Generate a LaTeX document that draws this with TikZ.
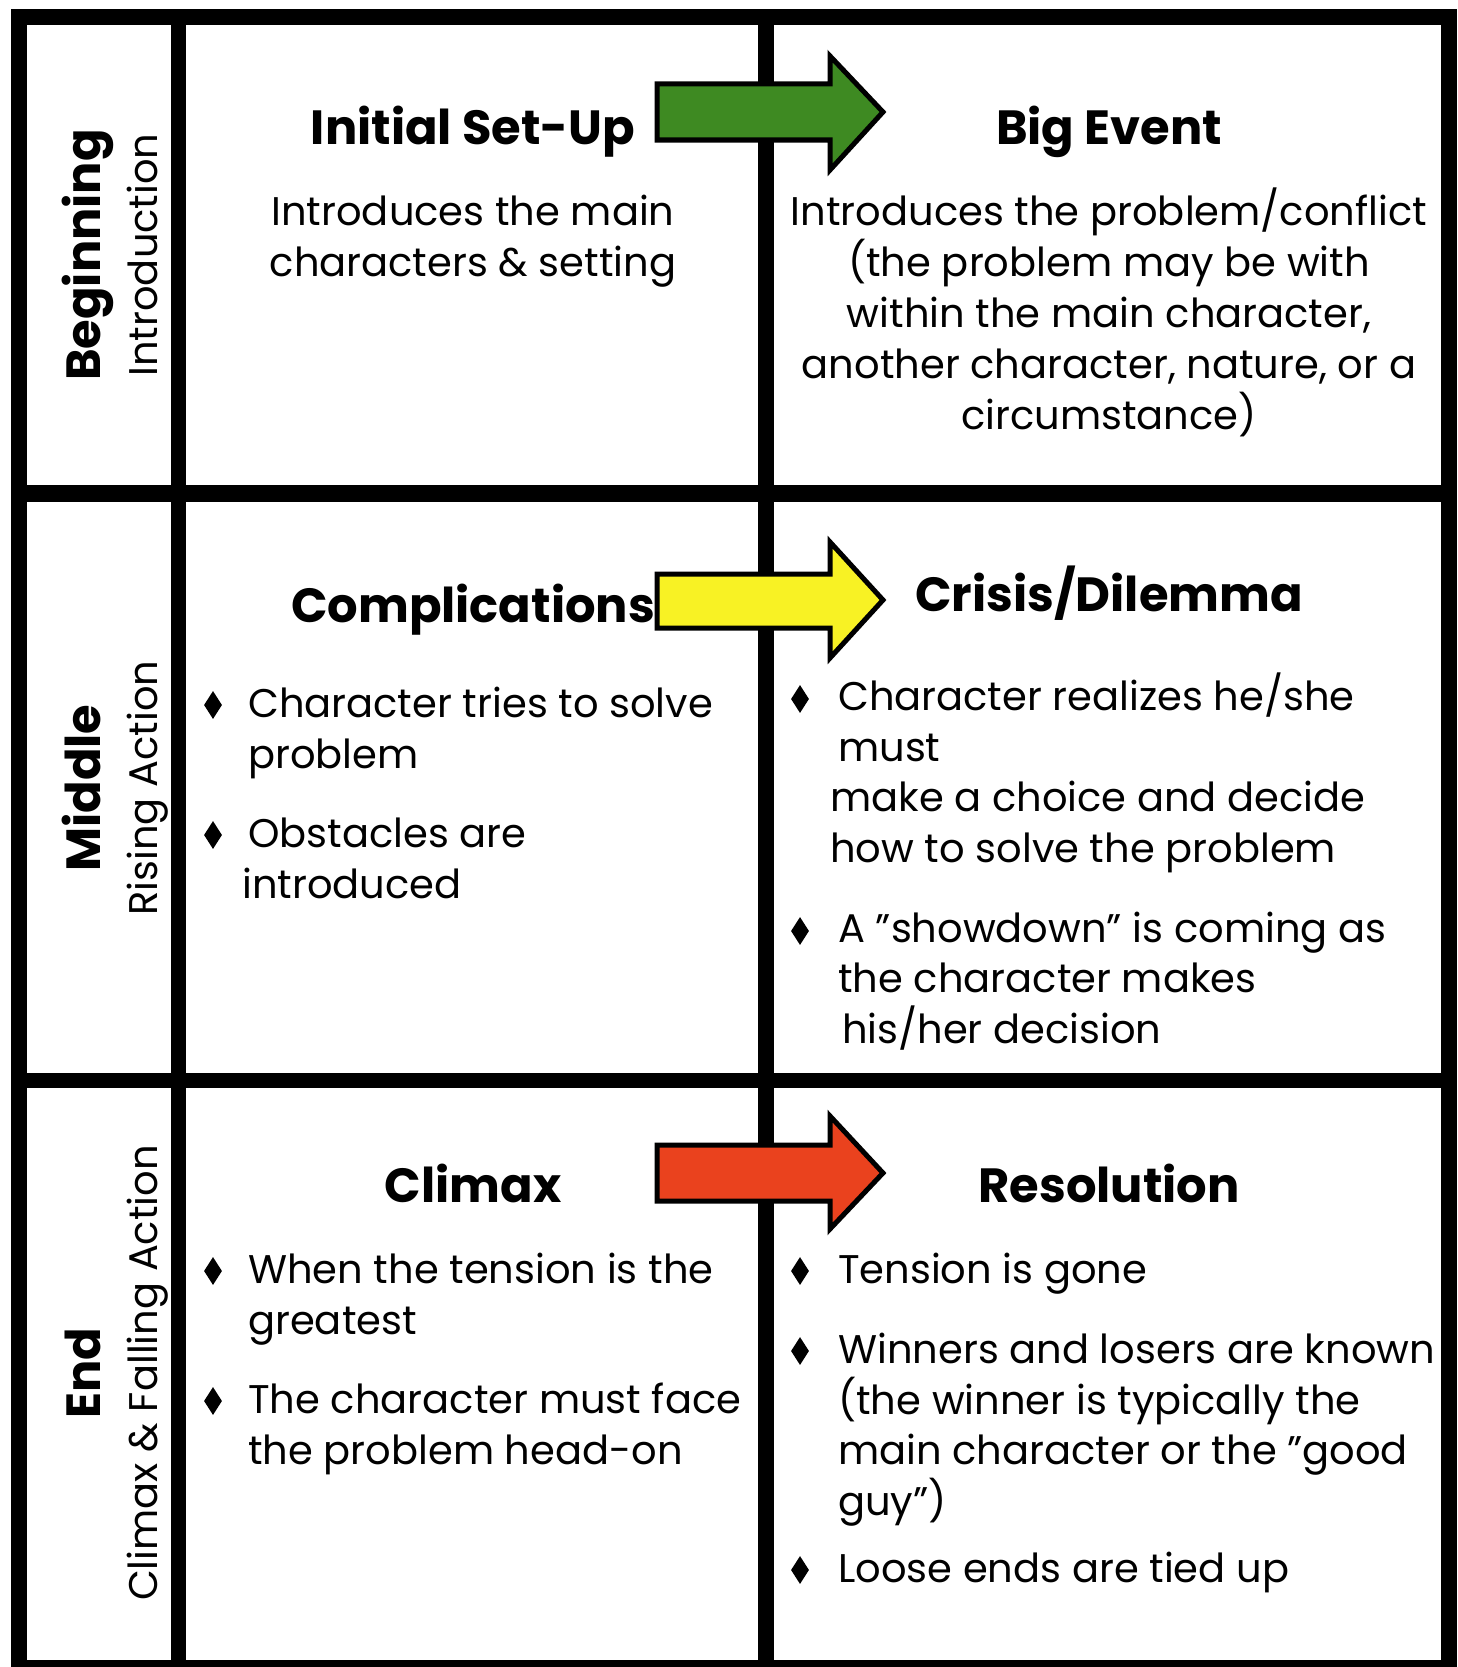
\documentclass[tikz,border=0pt]{standalone}
\usepackage{fontspec}
\setmainfont{Poppins}
\usetikzlibrary{shapes.geometric}
\definecolor{arrowgreen}{RGB}{62,138,34}
\definecolor{arrowyellow}{RGB}{248,242,36}
\definecolor{arrowred}{RGB}{234,66,30}
\begin{document}
\begin{tikzpicture}[x=1pt,y=-1pt,
  gridline/.style={line width=16pt,black},
  blockarrow/.style={draw=black,line width=5pt,line join=miter},
  title/.style={anchor=base,font=\fontsize{48}{56}\selectfont\bfseries,inner sep=0pt},
  body/.style={anchor=base,align=center,font=\fontsize{40}{51}\selectfont,inner sep=0pt},
  item/.style={anchor=base west,align=left,font=\fontsize{40}{50.5}\selectfont,inner sep=0pt},
  bulletmark/.style={diamond,fill=black,inner sep=0pt,minimum width=18pt,minimum height=28pt},
  rowlabel/.style={anchor=base,rotate=90,inner sep=0pt,font=\fontsize{48}{54}\selectfont\bfseries},
  rowsub/.style={anchor=base,rotate=90,inner sep=0pt,font=\fontsize{40}{46}\selectfont},
]
\useasboundingbox (0,0) rectangle (1457,1667);

% table frame and dividers
\draw[gridline] (19,17) rectangle (1449,1668);
\draw[line width=15pt] (178.5,17) -- (178.5,1668);
\draw[gridline] (766,17) -- (766,1668);
\draw[line width=17pt] (19,493.5) -- (1449,493.5);
\draw[line width=15pt] (19,1080.5) -- (1449,1080.5);

% row labels
\node[rowlabel] (beg) at (100,255) {Beginning};
\node[rowsub] (begs) at (157,255) {Introduction};
\node[rowlabel] (mid) at (100,788) {Middle};
\node[rowsub] (mids) at (157,788) {Rising Action};
\node[rowlabel] (end) at (100,1373) {End};
\node[rowsub] (ends) at (157,1373) {Climax \& Falling Action};

% row 1 (multi-line nodes are placed by the baseline of their last line)
\node[title] (setup) at (473,144) {Initial Set-Up};
\node[body] (setupt) at (473,276) {Introduces the main\\characters \& setting};
\node[title] (event) at (1109,144) {Big Event};
\node[body] (eventt) at (1109,429) {Introduces the problem/conflict\\(the problem may be with\\within the main character,\\another character, nature, or a\\circumstance)};

% row 2
\node[title] (compl) at (473,622) {Complications};
\node[title] (crisis) at (1109,611) {Crisis/Dilemma};
\node[bulletmark] (b1) at (213,705) {};
\node[item] (c1) at (248,768) {Character tries to solve\\problem};
\node[bulletmark] (b2) at (213,835) {};
\node[item] (c2) at (242,898) {\hspace*{6pt}Obstacles are\\introduced};
\node[bulletmark] (b3) at (800,699) {};
\node[item] (d1) at (830,862) {\hspace*{8pt}Character realizes he/she\\\hspace*{8pt}must\\make a choice and decide\\how to solve the problem};
\node[bulletmark] (b4) at (800,931) {};
\node[item] (d2) at (838,1043) {A "showdown" is coming as\\the character makes\\\hspace*{4pt}his/her decision};

% row 3
\node[title] (climax) at (473,1202) {Climax};
\node[title] (resol) at (1109,1202) {Resolution};
\node[bulletmark] (b5) at (213,1271) {};
\node[item] (e1) at (248,1334) {When the tension is the\\greatest};
\node[bulletmark] (b6) at (213,1401) {};
\node[item] (e2) at (248,1464) {The character must face\\the problem head-on};
\node[bulletmark] (b7) at (800,1271) {};
\node[item] (f1) at (838,1283) {Tension is gone};
\node[bulletmark] (b8) at (800,1351) {};
\node[item] (f2) at (838,1515) {Winners and losers are known\\(the winner is typically the\\main character or the "good\\guy")};
\node[bulletmark] (b9) at (800,1570) {};
\node[item] (f3) at (838,1582) {Loose ends are tied up};

% block arrows between the paired stages
\draw[blockarrow,fill=arrowgreen] (657,84) -- (830,84) -- (830,56) -- (883,112) -- (830,170) -- (830,140) -- (657,140) -- cycle;
\draw[blockarrow,fill=arrowyellow] (657,574) -- (830,574) -- (830,542) -- (883,600) -- (830,658) -- (830,628) -- (657,628) -- cycle;
\draw[blockarrow,fill=arrowred] (657,1145) -- (830,1145) -- (830,1116) -- (883,1173) -- (830,1229) -- (830,1201) -- (657,1201) -- cycle;
\end{tikzpicture}
\end{document}
